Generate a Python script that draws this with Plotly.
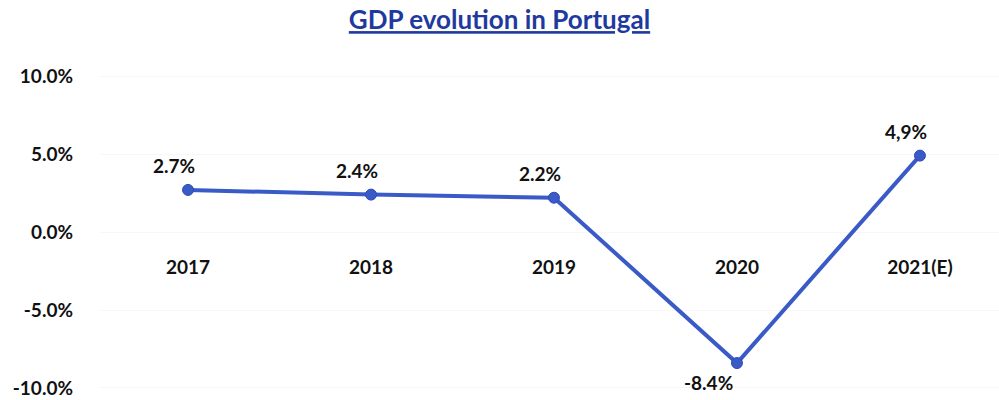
import plotly.graph_objects as go

# GDP growth, Portugal
years = ["2017", "2018", "2019", "2020", "2021(E)"]
gdp_growth = [2.7, 2.4, 2.2, -8.4, 4.9]
decimal_sep = [".", ".", ".", ".", ","]
label_below = [False, False, False, True, False]

y_ticks = [10, 5, 0, -5, -10]
y_tick_text = ["10.0%", "5.0%", "0.0%", "-5.0%", "-10.0%"]

LINE_BLUE = "#3A5BC7"
TITLE_BLUE = "#1F3A9E"
FONT = "Lato"

x_idx = list(range(len(years)))

fig = go.Figure()
fig.add_trace(go.Scatter(
    x=x_idx, y=gdp_growth, mode="lines+markers",
    line=dict(color=LINE_BLUE, width=4),
    marker=dict(color=LINE_BLUE, size=11, line=dict(color="#2D4DB5", width=1)),
    hoverinfo="skip", showlegend=False,
))

for i, v in enumerate(gdp_growth):
    txt = f"{v:.1f}%".replace(".", decimal_sep[i])
    fig.add_annotation(
        x=i, y=v, xref="x", yref="y", text=f"<b>{txt}</b>", showarrow=False,
        xshift=-14 if not label_below[i] else -28,
        yshift=-19 if label_below[i] else 24,
        font=dict(family=FONT, size=19, color="#111111"),
    )

y_lo, y_hi = -10.77, 11.03
fig.update_layout(
    width=999, height=400,
    margin=dict(l=100, r=0, t=60, b=0),
    paper_bgcolor="white", plot_bgcolor="white",
    title=dict(
        text="<b>GDP evolution in Portugal</b>",
        x=0.5, xanchor="center", y=0.95, yanchor="middle",
        font=dict(family=FONT, size=26, color=TITLE_BLUE, lineposition="under"),
    ),
    xaxis=dict(
        range=[-0.481, 4.432], showgrid=False, zeroline=False, showline=False,
        tickmode="array", tickvals=x_idx, ticktext=[f"<b>{y}</b>" for y in years],
        ticks="", anchor="free", position=(0 - y_lo) / (y_hi - y_lo),
        ticklabelstandoff=22,
        tickfont=dict(family=FONT, size=19, color="#111111"),
    ),
    yaxis=dict(
        range=[y_lo, y_hi], tickmode="array", tickvals=y_ticks,
        ticktext=[f"<b>{t}</b>" for t in y_tick_text],
        showgrid=True, gridcolor="#F7F7F7", gridwidth=1,
        zeroline=False, showline=False, ticks="",
        ticklabelstandoff=26,
        tickfont=dict(family=FONT, size=19, color="#111111"),
    ),
)

fig.write_html("out.html")
